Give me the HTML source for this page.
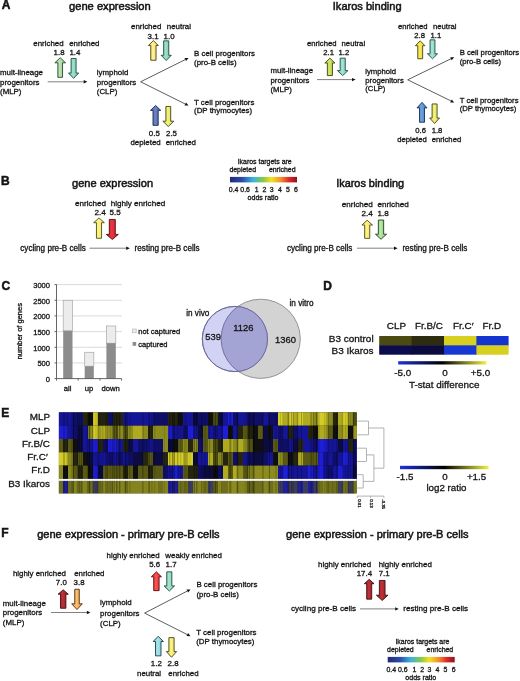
<!DOCTYPE html>
<html><head><meta charset="utf-8"><title>Figure</title>
<style>
html,body{margin:0;padding:0;background:#fff;}
svg{display:block;filter:blur(0.3px);}
text{font-family:"Liberation Sans",sans-serif;fill:#141414;stroke:#141414;stroke-width:0.3px;}
.t{stroke-width:0.5px;}
</style></head><body>
<svg width="520" height="681" viewBox="0 0 520 681">
<defs><linearGradient id="gGreen" x1="0" y1="0" x2="1" y2="0"><stop offset="0" stop-color="#86c084"/><stop offset="0.45" stop-color="#bce4b6"/><stop offset="1" stop-color="#86c084"/></linearGradient><linearGradient id="gTeal" x1="0" y1="0" x2="1" y2="0"><stop offset="0" stop-color="#66bea2"/><stop offset="0.45" stop-color="#a0e0cc"/><stop offset="1" stop-color="#66bea2"/></linearGradient><linearGradient id="gYel" x1="0" y1="0" x2="1" y2="0"><stop offset="0" stop-color="#eed24a"/><stop offset="0.45" stop-color="#fff29a"/><stop offset="1" stop-color="#eed24a"/></linearGradient><linearGradient id="gBlue" x1="0" y1="0" x2="1" y2="0"><stop offset="0" stop-color="#4458a2"/><stop offset="0.45" stop-color="#6c84c8"/><stop offset="1" stop-color="#4458a2"/></linearGradient><linearGradient id="gYel2" x1="0" y1="0" x2="1" y2="0"><stop offset="0" stop-color="#d8d846"/><stop offset="0.45" stop-color="#f2f27e"/><stop offset="1" stop-color="#d8d846"/></linearGradient><linearGradient id="gYG" x1="0" y1="0" x2="1" y2="0"><stop offset="0" stop-color="#a8c232"/><stop offset="0.45" stop-color="#d6e66c"/><stop offset="1" stop-color="#a8c232"/></linearGradient><linearGradient id="gTeal2" x1="0" y1="0" x2="1" y2="0"><stop offset="0" stop-color="#70c8b8"/><stop offset="0.45" stop-color="#a8e4d6"/><stop offset="1" stop-color="#70c8b8"/></linearGradient><linearGradient id="gYel3" x1="0" y1="0" x2="1" y2="0"><stop offset="0" stop-color="#e8d230"/><stop offset="0.45" stop-color="#f8ec58"/><stop offset="1" stop-color="#e8d230"/></linearGradient><linearGradient id="gBlue2" x1="0" y1="0" x2="1" y2="0"><stop offset="0" stop-color="#3e72bc"/><stop offset="0.45" stop-color="#6ea2de"/><stop offset="1" stop-color="#3e72bc"/></linearGradient><linearGradient id="gLY" x1="0" y1="0" x2="1" y2="0"><stop offset="0" stop-color="#eede50"/><stop offset="0.45" stop-color="#fcf484"/><stop offset="1" stop-color="#eede50"/></linearGradient><linearGradient id="gRed" x1="0" y1="0" x2="1" y2="0"><stop offset="0" stop-color="#c01828"/><stop offset="0.45" stop-color="#ee3444"/><stop offset="1" stop-color="#c01828"/></linearGradient><linearGradient id="gGreen2" x1="0" y1="0" x2="1" y2="0"><stop offset="0" stop-color="#80c470"/><stop offset="0.45" stop-color="#b8e8a8"/><stop offset="1" stop-color="#80c470"/></linearGradient><linearGradient id="gDRed" x1="0" y1="0" x2="1" y2="0"><stop offset="0" stop-color="#901820"/><stop offset="0.45" stop-color="#c03038"/><stop offset="1" stop-color="#901820"/></linearGradient><linearGradient id="gOr" x1="0" y1="0" x2="1" y2="0"><stop offset="0" stop-color="#eb9630"/><stop offset="0.45" stop-color="#fcc070"/><stop offset="1" stop-color="#eb9630"/></linearGradient><linearGradient id="gRed2" x1="0" y1="0" x2="1" y2="0"><stop offset="0" stop-color="#e02828"/><stop offset="0.45" stop-color="#ff5050"/><stop offset="1" stop-color="#e02828"/></linearGradient><linearGradient id="gTeal3" x1="0" y1="0" x2="1" y2="0"><stop offset="0" stop-color="#70c8b0"/><stop offset="0.45" stop-color="#a8e4d0"/><stop offset="1" stop-color="#70c8b0"/></linearGradient><linearGradient id="gCyan" x1="0" y1="0" x2="1" y2="0"><stop offset="0" stop-color="#70c8d4"/><stop offset="0.45" stop-color="#a8e4ea"/><stop offset="1" stop-color="#70c8d4"/></linearGradient><linearGradient id="gYel4" x1="0" y1="0" x2="1" y2="0"><stop offset="0" stop-color="#ecdc4a"/><stop offset="0.45" stop-color="#fcf38a"/><stop offset="1" stop-color="#ecdc4a"/></linearGradient><linearGradient id="gOdds" x1="0" y1="0" x2="1" y2="0"><stop offset="0" stop-color="#232a78"/><stop offset="0.18" stop-color="#2c4aa8"/><stop offset="0.34" stop-color="#3cb0e0"/><stop offset="0.5" stop-color="#8cc84a"/><stop offset="0.62" stop-color="#f2e224"/><stop offset="0.76" stop-color="#f09030"/><stop offset="0.88" stop-color="#e02828"/><stop offset="1" stop-color="#8a1420"/></linearGradient><linearGradient id="gBYk" x1="0" y1="0" x2="1" y2="0"><stop offset="0" stop-color="#2030e0"/><stop offset="0.5" stop-color="#000000"/><stop offset="1" stop-color="#f0f040"/></linearGradient><filter id="soft" x="-1%" y="-5%" width="102%" height="110%"><feGaussianBlur stdDeviation="0.45"/></filter></defs>
<rect width="520" height="681" fill="#ffffff"/>
<text x="1.8" y="8.8" font-size="12" font-weight="bold" class="t">A</text>
<text x="69" y="10.1" font-size="11.15" class="t">gene expression</text>
<text x="33.3" y="46.2" font-size="7.9">enriched</text>
<text x="69.2" y="46.2" font-size="7.9">enriched</text>
<text x="53.6" y="55.4" font-size="7.9">1.8</text>
<text x="69.4" y="55.4" font-size="7.9">1.4</text>
<polygon points="60.20,57.75 65.55,62.80 62.55,62.80 62.55,77.35 57.85,77.35 57.85,62.80 54.85,62.80" fill="url(#gGreen)" stroke="#2a4a2a" stroke-width="0.9" stroke-linejoin="miter"/>
<polygon points="73.60,78.35 78.70,73.00 76.10,73.00 76.10,58.45 71.10,58.45 71.10,73.00 68.50,73.00" fill="url(#gTeal)" stroke="#1e4a40" stroke-width="0.9" stroke-linejoin="miter"/>
<text x="0" y="75" font-size="7.9">mult-lineage</text>
<text x="0" y="84.6" font-size="7.9">progenitors</text>
<text x="0" y="93.8" font-size="7.9">(MLP)</text>
<line x1="47.7" y1="81.8" x2="83.70" y2="81.80" stroke="#808080" stroke-width="1.0"/>
<polygon points="87.30,81.80 83.70,83.50 83.70,80.10" fill="#111"/>
<text x="96.8" y="74.9" font-size="7.9">lymphoid</text>
<text x="96.8" y="84.5" font-size="7.9">progenitors</text>
<text x="96.8" y="93.8" font-size="7.9">(CLP)</text>
<text x="131" y="29" font-size="7.9">enriched</text>
<text x="166.8" y="29" font-size="7.9">neutral</text>
<text x="147.6" y="38.5" font-size="7.9">3.1</text>
<text x="163.6" y="38.5" font-size="7.9">1.0</text>
<polygon points="153.40,40.55 158.35,45.50 156.05,45.50 156.05,60.25 150.75,60.25 150.75,45.50 148.45,45.50" fill="url(#gYel)" stroke="#4a4018" stroke-width="0.9" stroke-linejoin="miter"/>
<polygon points="166.20,60.55 171.30,55.30 168.75,55.30 168.75,40.85 163.65,40.85 163.65,55.30 161.10,55.30" fill="url(#gTeal)" stroke="#1e4a40" stroke-width="0.9" stroke-linejoin="miter"/>
<line x1="140.6" y1="81.8" x2="185.28" y2="59.60" stroke="#333" stroke-width="0.8"/>
<polygon points="188.50,58.00 186.03,61.12 184.52,58.08" fill="#111"/>
<line x1="140.6" y1="81.8" x2="185.28" y2="104.00" stroke="#333" stroke-width="0.8"/>
<polygon points="188.50,105.60 184.52,105.52 186.03,102.48" fill="#111"/>
<text x="194" y="56.2" font-size="7.9">B cell progenitors</text>
<text x="194" y="64.6" font-size="7.9">(pro-B cells)</text>
<text x="194" y="104.6" font-size="7.9">T cell progenitors</text>
<text x="194" y="113" font-size="7.9">(DP thymocytes)</text>
<polygon points="155.60,105.45 160.75,110.40 158.20,110.40 158.20,125.35 153.00,125.35 153.00,110.40 150.45,110.40" fill="url(#gBlue)" stroke="#1a2850" stroke-width="0.9" stroke-linejoin="miter"/>
<polygon points="168.30,126.55 173.75,121.20 170.70,121.20 170.70,106.45 165.90,106.45 165.90,121.20 162.85,121.20" fill="url(#gYel2)" stroke="#424218" stroke-width="0.9" stroke-linejoin="miter"/>
<text x="148.8" y="135.8" font-size="7.9">0.5</text>
<text x="166" y="135.8" font-size="7.9">2.5</text>
<text x="130.4" y="144.5" font-size="7.9">depleted</text>
<text x="165.7" y="144.5" font-size="7.9">enriched</text>
<text x="332.8" y="10.4" font-size="11.05" class="t">Ikaros binding</text>
<text x="307" y="45.7" font-size="7.7">enriched</text>
<text x="341.6" y="45.7" font-size="7.7">neutral</text>
<text x="323.3" y="54.9" font-size="7.7">2.1</text>
<text x="338.6" y="54.9" font-size="7.7">1.2</text>
<polygon points="329.90,58.15 334.95,63.00 332.45,63.00 332.45,75.55 327.35,75.55 327.35,63.00 324.85,63.00" fill="url(#gYG)" stroke="#3c4418" stroke-width="0.9" stroke-linejoin="miter"/>
<polygon points="342.70,75.55 347.95,70.60 345.25,70.60 345.25,58.15 340.15,58.15 340.15,70.60 337.45,70.60" fill="url(#gTeal2)" stroke="#1e4a44" stroke-width="0.9" stroke-linejoin="miter"/>
<text x="270.5" y="73.1" font-size="7.8">mult-lineage</text>
<text x="270.5" y="82.6" font-size="7.8">progenitors</text>
<text x="270.5" y="91.7" font-size="7.8">(MLP)</text>
<line x1="317" y1="79.6" x2="352.00" y2="79.60" stroke="#808080" stroke-width="1.0"/>
<polygon points="355.60,79.60 352.00,81.30 352.00,77.90" fill="#111"/>
<text x="365.3" y="74" font-size="7.7">lymphoid</text>
<text x="365.3" y="82.7" font-size="7.7">progenitors</text>
<text x="365.3" y="91.3" font-size="7.7">(CLP)</text>
<text x="398" y="28.5" font-size="7.7">enriched</text>
<text x="433" y="28.5" font-size="7.7">neutral</text>
<text x="414.3" y="37.5" font-size="7.7">2.8</text>
<text x="430.6" y="37.5" font-size="7.7">1.1</text>
<polygon points="420.20,40.85 424.95,45.70 422.65,45.70 422.65,58.75 417.75,58.75 417.75,45.70 415.45,45.70" fill="url(#gYel3)" stroke="#4a4418" stroke-width="0.9" stroke-linejoin="miter"/>
<polygon points="432.50,58.75 437.55,53.80 434.95,53.80 434.95,39.85 430.05,39.85 430.05,53.80 427.45,53.80" fill="url(#gTeal2)" stroke="#1e4a44" stroke-width="0.9" stroke-linejoin="miter"/>
<line x1="407.7" y1="79.8" x2="450.96" y2="58.77" stroke="#333" stroke-width="0.8"/>
<polygon points="454.20,57.20 451.71,60.30 450.22,57.24" fill="#111"/>
<line x1="407.7" y1="79.8" x2="450.96" y2="100.92" stroke="#333" stroke-width="0.8"/>
<polygon points="454.20,102.50 450.22,102.45 451.71,99.39" fill="#111"/>
<text x="459.7" y="55.4" font-size="7.7">B cell progenitors</text>
<text x="459.7" y="64" font-size="7.7">(pro-B cells)</text>
<text x="459.7" y="102.5" font-size="7.7">T cell progenitors</text>
<text x="459.7" y="110.8" font-size="7.7">(DP thymocytes)</text>
<polygon points="422.00,102.35 427.00,107.90 424.50,107.90 424.50,122.25 419.50,122.25 419.50,107.90 417.00,107.90" fill="url(#gBlue2)" stroke="#1a3058" stroke-width="0.9" stroke-linejoin="miter"/>
<polygon points="434.60,123.45 439.55,118.00 437.10,118.00 437.10,103.95 432.10,103.95 432.10,118.00 429.65,118.00" fill="url(#gYel2)" stroke="#424218" stroke-width="0.9" stroke-linejoin="miter"/>
<text x="415.3" y="132.7" font-size="7.7">0.6</text>
<text x="431.7" y="132.7" font-size="7.7">1.8</text>
<text x="397.3" y="141.5" font-size="7.7">depleted</text>
<text x="431.7" y="141.5" font-size="7.7">enriched</text>
<text x="1.0" y="185.0" font-size="12" font-weight="bold" class="t">B</text>
<text x="72" y="187.4" font-size="11.05" class="t">gene expression</text>
<text x="75" y="205.8" font-size="8.1">enriched</text>
<text x="110.7" y="205.8" font-size="8.1">highly enriched</text>
<text x="94.5" y="215" font-size="8.1">2.4</text>
<text x="109.5" y="215" font-size="8.1">5.5</text>
<polygon points="99.00,217.95 104.35,222.70 101.55,222.70 101.55,238.25 96.45,238.25 96.45,222.70 93.65,222.70" fill="url(#gLY)" stroke="#4a4a20" stroke-width="0.9" stroke-linejoin="miter"/>
<polygon points="112.30,239.45 118.30,234.40 115.30,234.40 115.30,219.45 109.30,219.45 109.30,234.40 106.30,234.40" fill="url(#gRed)" stroke="#4a1010" stroke-width="0.9" stroke-linejoin="miter"/>
<text x="20.3" y="250.6" font-size="8.15">cycling pre-B cells</text>
<line x1="89.5" y1="248.2" x2="126.20" y2="248.20" stroke="#808080" stroke-width="1.0"/>
<polygon points="129.80,248.20 126.20,249.90 126.20,246.50" fill="#111"/>
<text x="134.6" y="250.6" font-size="8.15">resting pre-B cells</text>
<text x="336.2" y="187.4" font-size="10.9" class="t">Ikaros binding</text>
<text x="341.8" y="207" font-size="8.1">enriched</text>
<text x="377.6" y="207" font-size="8.1">enriched</text>
<text x="361.4" y="215.7" font-size="8.1">2.4</text>
<text x="377.6" y="215.7" font-size="8.1">1.8</text>
<polygon points="367.20,220.25 372.50,225.00 369.75,225.00 369.75,238.35 364.65,238.35 364.65,225.00 361.90,225.00" fill="url(#gLY)" stroke="#4a4a20" stroke-width="0.9" stroke-linejoin="miter"/>
<polygon points="381.00,239.25 386.55,234.20 383.65,234.20 383.65,220.05 378.35,220.05 378.35,234.20 375.45,234.20" fill="url(#gGreen2)" stroke="#204020" stroke-width="0.9" stroke-linejoin="miter"/>
<text x="286.9" y="250.6" font-size="8.15">cycling pre-B cells</text>
<line x1="357" y1="248.2" x2="394.00" y2="248.20" stroke="#808080" stroke-width="1.0"/>
<polygon points="397.60,248.20 394.00,249.90 394.00,246.50" fill="#111"/>
<text x="402.4" y="250.6" font-size="8.15">resting pre-B cells</text>
<text x="237.7" y="163.7" font-size="6.95">Ikaros targets are</text>
<text x="229.4" y="172" font-size="6.95">depleted</text>
<text x="268.9" y="172" font-size="6.95">enriched</text>
<rect x="230" y="176.9" width="67" height="5.5" fill="url(#gOdds)"/>
<text x="228.8" y="192.2" font-size="6.95">0.4</text>
<text x="240.3" y="192.2" font-size="6.95">0.6</text>
<text x="254.8" y="192.2" font-size="6.95">1</text>
<text x="262.5" y="192.2" font-size="6.95">2</text>
<text x="269.8" y="192.2" font-size="6.95">3</text>
<text x="277.9" y="192.2" font-size="6.95">4</text>
<text x="285.9" y="192.2" font-size="6.95">5</text>
<text x="294" y="192.2" font-size="6.95">6</text>
<text x="247.6" y="200.3" font-size="7.05">odds ratio</text>
<text x="1.5" y="289.6" font-size="12" font-weight="bold" class="t">C</text>
<line x1="56.5" y1="362.93" x2="122" y2="362.93" stroke="#d6d6d6" stroke-width="0.9"/>
<line x1="56.5" y1="347.27" x2="122" y2="347.27" stroke="#d6d6d6" stroke-width="0.9"/>
<line x1="56.5" y1="331.60" x2="122" y2="331.60" stroke="#d6d6d6" stroke-width="0.9"/>
<line x1="56.5" y1="315.93" x2="122" y2="315.93" stroke="#d6d6d6" stroke-width="0.9"/>
<line x1="56.5" y1="300.27" x2="122" y2="300.27" stroke="#d6d6d6" stroke-width="0.9"/>
<line x1="56.5" y1="284.60" x2="122" y2="284.60" stroke="#d6d6d6" stroke-width="0.9"/>
<rect x="63.2" y="300.27" width="9.299999999999997" height="30.55" fill="#ececec" stroke="#a8a8a8" stroke-width="0.7"/>
<rect x="63.2" y="330.82" width="9.299999999999997" height="47.78" fill="#8c8c8c"/>
<rect x="84.7" y="352.28" width="9.099999999999994" height="13.94" fill="#ececec" stroke="#a8a8a8" stroke-width="0.7"/>
<rect x="84.7" y="366.22" width="9.099999999999994" height="12.38" fill="#8c8c8c"/>
<rect x="106.4" y="325.96" width="9.399999999999991" height="17.23" fill="#ececec" stroke="#a8a8a8" stroke-width="0.7"/>
<rect x="106.4" y="343.19" width="9.399999999999991" height="35.41" fill="#8c8c8c"/>
<line x1="56.5" y1="284.4" x2="56.5" y2="378.6" stroke="#555" stroke-width="0.9"/>
<line x1="56.5" y1="378.6" x2="121.6" y2="378.6" stroke="#555" stroke-width="0.9"/>
<line x1="54.5" y1="378.60" x2="56.5" y2="378.60" stroke="#555" stroke-width="0.9"/>
<line x1="54.5" y1="362.93" x2="56.5" y2="362.93" stroke="#555" stroke-width="0.9"/>
<line x1="54.5" y1="347.27" x2="56.5" y2="347.27" stroke="#555" stroke-width="0.9"/>
<line x1="54.5" y1="331.60" x2="56.5" y2="331.60" stroke="#555" stroke-width="0.9"/>
<line x1="54.5" y1="315.93" x2="56.5" y2="315.93" stroke="#555" stroke-width="0.9"/>
<line x1="54.5" y1="300.27" x2="56.5" y2="300.27" stroke="#555" stroke-width="0.9"/>
<line x1="54.5" y1="284.60" x2="56.5" y2="284.60" stroke="#555" stroke-width="0.9"/>
<line x1="56.5" y1="378.6" x2="56.5" y2="380.6" stroke="#555" stroke-width="0.9"/>
<line x1="78.2" y1="378.6" x2="78.2" y2="380.6" stroke="#555" stroke-width="0.9"/>
<line x1="100" y1="378.6" x2="100" y2="380.6" stroke="#555" stroke-width="0.9"/>
<line x1="121.6" y1="378.6" x2="121.6" y2="380.6" stroke="#555" stroke-width="0.9"/>
<text x="50" y="381.90000000000003" font-size="7.55" text-anchor="end">0</text>
<text x="50" y="366.23333333333335" font-size="7.55" text-anchor="end">500</text>
<text x="50" y="350.5666666666667" font-size="7.55" text-anchor="end">1000</text>
<text x="50" y="334.90000000000003" font-size="7.55" text-anchor="end">1500</text>
<text x="50" y="319.23333333333335" font-size="7.55" text-anchor="end">2000</text>
<text x="50" y="303.5666666666667" font-size="7.55" text-anchor="end">2500</text>
<text x="50" y="287.90000000000003" font-size="7.55" text-anchor="end">3000</text>
<text x="0" y="0" font-size="7.5" text-anchor="middle" transform="translate(22.4,331.2) rotate(-90)">number of genes</text>
<text x="63.7" y="391" font-size="7.7">all</text>
<text x="84.8" y="391" font-size="7.7">up</text>
<text x="101.5" y="391" font-size="7.7">down</text>
<rect x="132.6" y="329" width="3.6" height="3.8" fill="#ececec" stroke="#b0b0b0" stroke-width="0.6"/>
<rect x="132.6" y="342" width="3.6" height="3.8" fill="#8c8c8c"/>
<text x="138.2" y="334.3" font-size="7.55">not captured</text>
<text x="138.2" y="347" font-size="7.55">captured</text>
<circle cx="260.7" cy="338.8" r="39.6" fill="#d3d3d3" stroke="#8a8a8a" stroke-width="0.9"/>
<circle cx="234.9" cy="339" r="32.6" fill="#d2d2f4" stroke="#6a6a9a" stroke-width="0.9"/>
<clipPath id="cpBig"><circle cx="260.7" cy="338.8" r="39.6"/></clipPath>
<circle cx="234.9" cy="339" r="32.6" fill="#a4a4d4" clip-path="url(#cpBig)"/>
<circle cx="260.7" cy="338.8" r="39.6" fill="none" stroke="#6a6a9a" stroke-width="0.9" clip-path="url(#cpSmall)"/>
<clipPath id="cpSmall"><circle cx="234.9" cy="339" r="32.6"/></clipPath>
<circle cx="234.9" cy="339" r="32.6" fill="none" stroke="#6a6a9a" stroke-width="0.9"/>
<text x="186.2" y="315.6" font-size="8.2">in vivo</text>
<text x="289.5" y="306.3" font-size="8.2">in vitro</text>
<text x="205.3" y="340.1" font-size="9.4" fill="#262640">539</text>
<text x="233.3" y="331.1" font-size="9.4" fill="#262640">1126</text>
<text x="275" y="342.6" font-size="9.4" fill="#262626">1360</text>
<text x="323.2" y="289.5" font-size="12" font-weight="bold" class="t">D</text>
<text x="386.8" y="329.4" font-size="9.9">CLP</text>
<text x="415" y="329.4" font-size="9.9">Fr.B/C</text>
<text x="453" y="329.4" font-size="9.9">Fr.C′</text>
<text x="482.5" y="329.4" font-size="9.9">Fr.D</text>
<text x="373.6" y="341.9" font-size="9.95" text-anchor="end">B3 control</text>
<text x="373.6" y="354.2" font-size="9.95" text-anchor="end">B3 Ikaros</text>
<rect x="379.2" y="336" width="33.00" height="9.8" fill="#4a4a12"/>
<rect x="379.2" y="345.3" width="33.00" height="9.4" fill="#0c0c4c"/>
<rect x="411.6" y="336" width="33.00" height="9.8" fill="#2e2c10"/>
<rect x="411.6" y="345.3" width="33.00" height="9.4" fill="#0a0a3c"/>
<rect x="444.0" y="336" width="33.00" height="9.8" fill="#d8d020"/>
<rect x="444.0" y="345.3" width="33.00" height="9.4" fill="#1838d4"/>
<rect x="476.4" y="336" width="32.20" height="9.8" fill="#1434d0"/>
<rect x="476.4" y="345.3" width="32.20" height="9.4" fill="#d8d020"/>
<rect x="398.2" y="361.2" width="88.2" height="3.3" fill="url(#gBYk)"/>
<text x="394.2" y="375.8" font-size="9.85">-5.0</text>
<text x="442.3" y="375.8" font-size="9.85">0</text>
<text x="470.8" y="375.8" font-size="9.85">+5.0</text>
<text x="408.9" y="388" font-size="9.9">T-stat difference</text>
<text x="1.3" y="416.5" font-size="12" font-weight="bold" class="t">E</text>
<text x="50" y="420" font-size="9.9" text-anchor="end">MLP</text>
<text x="50" y="433.5" font-size="9.9" text-anchor="end">CLP</text>
<text x="50" y="446.6" font-size="9.9" text-anchor="end">Fr.B/C</text>
<text x="47.8" y="460" font-size="9.9" text-anchor="end">Fr.C′</text>
<text x="50" y="473.1" font-size="9.9" text-anchor="end">Fr.D</text>
<text x="50" y="486.5" font-size="9.9" text-anchor="end">B3 Ikaros</text>
<rect x="58.9" y="412.4" width="297.80" height="80.90" fill="#121212"/>
<g><rect x="58.9" y="412.4" width="14.15" height="13.35" fill="#151598"/><rect x="73" y="412.4" width="10.05" height="13.35" fill="#0f0f68"/><rect x="83" y="412.4" width="5.05" height="13.35" fill="#262610"/><rect x="88" y="412.4" width="5.05" height="13.35" fill="#101010"/><rect x="93" y="412.4" width="5.05" height="13.35" fill="#d4cc28"/><rect x="98" y="412.4" width="10.05" height="13.35" fill="#262610"/><rect x="108" y="412.4" width="5.05" height="13.35" fill="#0f0f68"/><rect x="113" y="412.4" width="10.05" height="13.35" fill="#262610"/><rect x="123" y="412.4" width="30.05" height="13.35" fill="#151598"/><rect x="153" y="412.4" width="15.05" height="13.35" fill="#0f0f68"/><rect x="168" y="412.4" width="10.05" height="13.35" fill="#262610"/><rect x="178" y="412.4" width="5.05" height="13.35" fill="#101010"/><rect x="183" y="412.4" width="10.05" height="13.35" fill="#151598"/><rect x="193" y="412.4" width="5.05" height="13.35" fill="#0c0c40"/><rect x="198" y="412.4" width="10.05" height="13.35" fill="#0f0f68"/><rect x="208" y="412.4" width="5.05" height="13.35" fill="#101010"/><rect x="213" y="412.4" width="5.05" height="13.35" fill="#5a5a14"/><rect x="218" y="412.4" width="5.05" height="13.35" fill="#0c0c40"/><rect x="223" y="412.4" width="5.05" height="13.35" fill="#151598"/><rect x="228" y="412.4" width="5.05" height="13.35" fill="#1e1ed6"/><rect x="233" y="412.4" width="5.05" height="13.35" fill="#0f0f68"/><rect x="238" y="412.4" width="10.05" height="13.35" fill="#151598"/><rect x="248" y="412.4" width="15.05" height="13.35" fill="#0f0f68"/><rect x="263" y="412.4" width="5.05" height="13.35" fill="#151598"/><rect x="268" y="412.4" width="10.05" height="13.35" fill="#0f0f68"/><rect x="278" y="412.4" width="5.05" height="13.35" fill="#d4cc28"/><rect x="283" y="412.4" width="5.05" height="13.35" fill="#b0aa20"/><rect x="288" y="412.4" width="5.05" height="13.35" fill="#d4cc28"/><rect x="293" y="412.4" width="5.05" height="13.35" fill="#b0aa20"/><rect x="298" y="412.4" width="5.05" height="13.35" fill="#d4cc28"/><rect x="303" y="412.4" width="10.05" height="13.35" fill="#b0aa20"/><rect x="313" y="412.4" width="5.05" height="13.35" fill="#8c8c1e"/><rect x="318" y="412.4" width="10.05" height="13.35" fill="#d4cc28"/><rect x="328" y="412.4" width="5.05" height="13.35" fill="#8c8c1e"/><rect x="333" y="412.4" width="5.05" height="13.35" fill="#262610"/><rect x="338" y="412.4" width="5.05" height="13.35" fill="#b0aa20"/><rect x="343" y="412.4" width="5.05" height="13.35" fill="#d4cc28"/><rect x="348" y="412.4" width="5.05" height="13.35" fill="#8c8c1e"/><rect x="353" y="412.4" width="3.75" height="13.35" fill="#5a5a14"/><rect x="58.9" y="425.7" width="9.15" height="13.35" fill="#1e1ed6"/><rect x="68" y="425.7" width="5.05" height="13.35" fill="#151598"/><rect x="73" y="425.7" width="5.05" height="13.35" fill="#0f0f68"/><rect x="78" y="425.7" width="5.05" height="13.35" fill="#0c0c40"/><rect x="83" y="425.7" width="5.05" height="13.35" fill="#151598"/><rect x="88" y="425.7" width="5.05" height="13.35" fill="#8c8c1e"/><rect x="93" y="425.7" width="5.05" height="13.35" fill="#d4cc28"/><rect x="98" y="425.7" width="10.05" height="13.35" fill="#b0aa20"/><rect x="108" y="425.7" width="5.05" height="13.35" fill="#8c8c1e"/><rect x="113" y="425.7" width="5.05" height="13.35" fill="#5a5a14"/><rect x="118" y="425.7" width="5.05" height="13.35" fill="#8c8c1e"/><rect x="123" y="425.7" width="5.05" height="13.35" fill="#5a5a14"/><rect x="128" y="425.7" width="5.05" height="13.35" fill="#8c8c1e"/><rect x="133" y="425.7" width="10.05" height="13.35" fill="#b0aa20"/><rect x="143" y="425.7" width="5.05" height="13.35" fill="#8c8c1e"/><rect x="148" y="425.7" width="5.05" height="13.35" fill="#262610"/><rect x="153" y="425.7" width="15.05" height="13.35" fill="#8c8c1e"/><rect x="168" y="425.7" width="5.05" height="13.35" fill="#1e1ed6"/><rect x="173" y="425.7" width="10.05" height="13.35" fill="#151598"/><rect x="183" y="425.7" width="5.05" height="13.35" fill="#0f0f68"/><rect x="188" y="425.7" width="5.05" height="13.35" fill="#1e1ed6"/><rect x="193" y="425.7" width="5.05" height="13.35" fill="#151598"/><rect x="198" y="425.7" width="5.05" height="13.35" fill="#0c0c40"/><rect x="203" y="425.7" width="5.05" height="13.35" fill="#5a5a14"/><rect x="208" y="425.7" width="15.05" height="13.35" fill="#151598"/><rect x="223" y="425.7" width="5.05" height="13.35" fill="#1e1ed6"/><rect x="228" y="425.7" width="5.05" height="13.35" fill="#101010"/><rect x="233" y="425.7" width="5.05" height="13.35" fill="#151598"/><rect x="238" y="425.7" width="5.05" height="13.35" fill="#262610"/><rect x="243" y="425.7" width="5.05" height="13.35" fill="#5a5a14"/><rect x="248" y="425.7" width="5.05" height="13.35" fill="#262610"/><rect x="253" y="425.7" width="5.05" height="13.35" fill="#101010"/><rect x="258" y="425.7" width="5.05" height="13.35" fill="#5a5a14"/><rect x="263" y="425.7" width="5.05" height="13.35" fill="#0c0c40"/><rect x="268" y="425.7" width="5.05" height="13.35" fill="#101010"/><rect x="273" y="425.7" width="5.05" height="13.35" fill="#151598"/><rect x="278" y="425.7" width="5.05" height="13.35" fill="#0f0f68"/><rect x="283" y="425.7" width="5.05" height="13.35" fill="#151598"/><rect x="288" y="425.7" width="5.05" height="13.35" fill="#262610"/><rect x="293" y="425.7" width="5.05" height="13.35" fill="#0f0f68"/><rect x="298" y="425.7" width="10.05" height="13.35" fill="#151598"/><rect x="308" y="425.7" width="5.05" height="13.35" fill="#262610"/><rect x="313" y="425.7" width="5.05" height="13.35" fill="#101010"/><rect x="318" y="425.7" width="10.05" height="13.35" fill="#b0aa20"/><rect x="328" y="425.7" width="5.05" height="13.35" fill="#5a5a14"/><rect x="333" y="425.7" width="5.05" height="13.35" fill="#101010"/><rect x="338" y="425.7" width="5.05" height="13.35" fill="#8c8c1e"/><rect x="343" y="425.7" width="5.05" height="13.35" fill="#b0aa20"/><rect x="348" y="425.7" width="5.05" height="13.35" fill="#101010"/><rect x="353" y="425.7" width="3.75" height="13.35" fill="#b0aa20"/><rect x="58.9" y="439.0" width="4.15" height="13.35" fill="#5a5a14"/><rect x="63" y="439.0" width="5.05" height="13.35" fill="#262610"/><rect x="68" y="439.0" width="5.05" height="13.35" fill="#5a5a14"/><rect x="73" y="439.0" width="5.05" height="13.35" fill="#101010"/><rect x="78" y="439.0" width="5.05" height="13.35" fill="#0c0c40"/><rect x="83" y="439.0" width="10.05" height="13.35" fill="#151598"/><rect x="93" y="439.0" width="5.05" height="13.35" fill="#1e1ed6"/><rect x="98" y="439.0" width="5.05" height="13.35" fill="#262610"/><rect x="103" y="439.0" width="5.05" height="13.35" fill="#0f0f68"/><rect x="108" y="439.0" width="10.05" height="13.35" fill="#1e1ed6"/><rect x="118" y="439.0" width="5.05" height="13.35" fill="#151598"/><rect x="123" y="439.0" width="5.05" height="13.35" fill="#262610"/><rect x="128" y="439.0" width="5.05" height="13.35" fill="#0c0c40"/><rect x="133" y="439.0" width="5.05" height="13.35" fill="#151598"/><rect x="138" y="439.0" width="10.05" height="13.35" fill="#0f0f68"/><rect x="148" y="439.0" width="5.05" height="13.35" fill="#151598"/><rect x="153" y="439.0" width="10.05" height="13.35" fill="#0f0f68"/><rect x="163" y="439.0" width="5.05" height="13.35" fill="#8c8c1e"/><rect x="168" y="439.0" width="5.05" height="13.35" fill="#0c0c40"/><rect x="173" y="439.0" width="5.05" height="13.35" fill="#101010"/><rect x="178" y="439.0" width="5.05" height="13.35" fill="#5a5a14"/><rect x="183" y="439.0" width="5.05" height="13.35" fill="#8c8c1e"/><rect x="188" y="439.0" width="5.05" height="13.35" fill="#262610"/><rect x="193" y="439.0" width="5.05" height="13.35" fill="#8c8c1e"/><rect x="198" y="439.0" width="5.05" height="13.35" fill="#0f0f68"/><rect x="203" y="439.0" width="5.05" height="13.35" fill="#5a5a14"/><rect x="208" y="439.0" width="5.05" height="13.35" fill="#8c8c1e"/><rect x="213" y="439.0" width="5.05" height="13.35" fill="#5a5a14"/><rect x="218" y="439.0" width="5.05" height="13.35" fill="#262610"/><rect x="223" y="439.0" width="10.05" height="13.35" fill="#b0aa20"/><rect x="233" y="439.0" width="5.05" height="13.35" fill="#8c8c1e"/><rect x="238" y="439.0" width="5.05" height="13.35" fill="#b0aa20"/><rect x="243" y="439.0" width="5.05" height="13.35" fill="#8c8c1e"/><rect x="248" y="439.0" width="5.05" height="13.35" fill="#5a5a14"/><rect x="253" y="439.0" width="10.05" height="13.35" fill="#101010"/><rect x="263" y="439.0" width="10.05" height="13.35" fill="#0c0c40"/><rect x="273" y="439.0" width="5.05" height="13.35" fill="#5a5a14"/><rect x="278" y="439.0" width="10.05" height="13.35" fill="#0f0f68"/><rect x="288" y="439.0" width="5.05" height="13.35" fill="#151598"/><rect x="293" y="439.0" width="5.05" height="13.35" fill="#0c0c40"/><rect x="298" y="439.0" width="5.05" height="13.35" fill="#262610"/><rect x="303" y="439.0" width="10.05" height="13.35" fill="#151598"/><rect x="313" y="439.0" width="5.05" height="13.35" fill="#0f0f68"/><rect x="318" y="439.0" width="10.05" height="13.35" fill="#1e1ed6"/><rect x="328" y="439.0" width="10.05" height="13.35" fill="#151598"/><rect x="338" y="439.0" width="5.05" height="13.35" fill="#0c0c40"/><rect x="343" y="439.0" width="5.05" height="13.35" fill="#151598"/><rect x="348" y="439.0" width="5.05" height="13.35" fill="#262610"/><rect x="353" y="439.0" width="3.75" height="13.35" fill="#0f0f68"/><rect x="58.9" y="452.3" width="9.15" height="13.35" fill="#d4cc28"/><rect x="68" y="452.3" width="5.05" height="13.35" fill="#8c8c1e"/><rect x="73" y="452.3" width="5.05" height="13.35" fill="#262610"/><rect x="78" y="452.3" width="5.05" height="13.35" fill="#5a5a14"/><rect x="83" y="452.3" width="5.05" height="13.35" fill="#101010"/><rect x="88" y="452.3" width="5.05" height="13.35" fill="#0c0c40"/><rect x="93" y="452.3" width="15.05" height="13.35" fill="#151598"/><rect x="108" y="452.3" width="5.05" height="13.35" fill="#0f0f68"/><rect x="113" y="452.3" width="5.05" height="13.35" fill="#151598"/><rect x="118" y="452.3" width="5.05" height="13.35" fill="#0f0f68"/><rect x="123" y="452.3" width="5.05" height="13.35" fill="#151598"/><rect x="128" y="452.3" width="5.05" height="13.35" fill="#0f0f68"/><rect x="133" y="452.3" width="10.05" height="13.35" fill="#0c0c40"/><rect x="143" y="452.3" width="5.05" height="13.35" fill="#262610"/><rect x="148" y="452.3" width="5.05" height="13.35" fill="#5a5a14"/><rect x="153" y="452.3" width="10.05" height="13.35" fill="#0c0c40"/><rect x="163" y="452.3" width="5.05" height="13.35" fill="#262610"/><rect x="168" y="452.3" width="15.05" height="13.35" fill="#d4cc28"/><rect x="183" y="452.3" width="5.05" height="13.35" fill="#b0aa20"/><rect x="188" y="452.3" width="5.05" height="13.35" fill="#d4cc28"/><rect x="193" y="452.3" width="5.05" height="13.35" fill="#0c0c40"/><rect x="198" y="452.3" width="10.05" height="13.35" fill="#151598"/><rect x="208" y="452.3" width="5.05" height="13.35" fill="#b0aa20"/><rect x="213" y="452.3" width="5.05" height="13.35" fill="#5a5a14"/><rect x="218" y="452.3" width="5.05" height="13.35" fill="#8c8c1e"/><rect x="223" y="452.3" width="5.05" height="13.35" fill="#262610"/><rect x="228" y="452.3" width="5.05" height="13.35" fill="#5a5a14"/><rect x="233" y="452.3" width="5.05" height="13.35" fill="#0f0f68"/><rect x="238" y="452.3" width="5.05" height="13.35" fill="#262610"/><rect x="243" y="452.3" width="5.05" height="13.35" fill="#151598"/><rect x="248" y="452.3" width="5.05" height="13.35" fill="#0f0f68"/><rect x="253" y="452.3" width="10.05" height="13.35" fill="#0c0c40"/><rect x="263" y="452.3" width="5.05" height="13.35" fill="#0f0f68"/><rect x="268" y="452.3" width="5.05" height="13.35" fill="#151598"/><rect x="273" y="452.3" width="5.05" height="13.35" fill="#101010"/><rect x="278" y="452.3" width="5.05" height="13.35" fill="#8c8c1e"/><rect x="283" y="452.3" width="5.05" height="13.35" fill="#5a5a14"/><rect x="288" y="452.3" width="5.05" height="13.35" fill="#101010"/><rect x="293" y="452.3" width="5.05" height="13.35" fill="#262610"/><rect x="298" y="452.3" width="5.05" height="13.35" fill="#b0aa20"/><rect x="303" y="452.3" width="15.05" height="13.35" fill="#5a5a14"/><rect x="318" y="452.3" width="5.05" height="13.35" fill="#1e1ed6"/><rect x="323" y="452.3" width="10.05" height="13.35" fill="#151598"/><rect x="333" y="452.3" width="5.05" height="13.35" fill="#0f0f68"/><rect x="338" y="452.3" width="5.05" height="13.35" fill="#151598"/><rect x="343" y="452.3" width="5.05" height="13.35" fill="#1e1ed6"/><rect x="348" y="452.3" width="5.05" height="13.35" fill="#151598"/><rect x="353" y="452.3" width="3.75" height="13.35" fill="#0f0f68"/><rect x="58.9" y="465.6" width="4.15" height="13.35" fill="#8c8c1e"/><rect x="63" y="465.6" width="5.05" height="13.35" fill="#101010"/><rect x="68" y="465.6" width="5.05" height="13.35" fill="#8c8c1e"/><rect x="73" y="465.6" width="5.05" height="13.35" fill="#5a5a14"/><rect x="78" y="465.6" width="5.05" height="13.35" fill="#262610"/><rect x="83" y="465.6" width="5.05" height="13.35" fill="#5a5a14"/><rect x="88" y="465.6" width="5.05" height="13.35" fill="#101010"/><rect x="93" y="465.6" width="5.05" height="13.35" fill="#1e1ed6"/><rect x="98" y="465.6" width="5.05" height="13.35" fill="#0c0c40"/><rect x="103" y="465.6" width="20.05" height="13.35" fill="#5a5a14"/><rect x="123" y="465.6" width="5.05" height="13.35" fill="#262610"/><rect x="128" y="465.6" width="5.05" height="13.35" fill="#5a5a14"/><rect x="133" y="465.6" width="5.05" height="13.35" fill="#101010"/><rect x="138" y="465.6" width="10.05" height="13.35" fill="#5a5a14"/><rect x="148" y="465.6" width="5.05" height="13.35" fill="#262610"/><rect x="153" y="465.6" width="10.05" height="13.35" fill="#5a5a14"/><rect x="163" y="465.6" width="5.05" height="13.35" fill="#0f0f68"/><rect x="168" y="465.6" width="5.05" height="13.35" fill="#151598"/><rect x="173" y="465.6" width="5.05" height="13.35" fill="#1e1ed6"/><rect x="178" y="465.6" width="5.05" height="13.35" fill="#151598"/><rect x="183" y="465.6" width="5.05" height="13.35" fill="#5a5a14"/><rect x="188" y="465.6" width="10.05" height="13.35" fill="#262610"/><rect x="198" y="465.6" width="5.05" height="13.35" fill="#0f0f68"/><rect x="203" y="465.6" width="10.05" height="13.35" fill="#0c0c40"/><rect x="213" y="465.6" width="5.05" height="13.35" fill="#101010"/><rect x="218" y="465.6" width="5.05" height="13.35" fill="#0f0f68"/><rect x="223" y="465.6" width="5.05" height="13.35" fill="#b0aa20"/><rect x="228" y="465.6" width="5.05" height="13.35" fill="#5a5a14"/><rect x="233" y="465.6" width="5.05" height="13.35" fill="#b0aa20"/><rect x="238" y="465.6" width="5.05" height="13.35" fill="#8c8c1e"/><rect x="243" y="465.6" width="5.05" height="13.35" fill="#5a5a14"/><rect x="248" y="465.6" width="30.05" height="13.35" fill="#8c8c1e"/><rect x="278" y="465.6" width="5.05" height="13.35" fill="#151598"/><rect x="283" y="465.6" width="5.05" height="13.35" fill="#1e1ed6"/><rect x="288" y="465.6" width="20.05" height="13.35" fill="#151598"/><rect x="308" y="465.6" width="5.05" height="13.35" fill="#1e1ed6"/><rect x="313" y="465.6" width="5.05" height="13.35" fill="#151598"/><rect x="318" y="465.6" width="5.05" height="13.35" fill="#1e1ed6"/><rect x="323" y="465.6" width="5.05" height="13.35" fill="#151598"/><rect x="328" y="465.6" width="5.05" height="13.35" fill="#0f0f68"/><rect x="333" y="465.6" width="5.05" height="13.35" fill="#151598"/><rect x="338" y="465.6" width="5.05" height="13.35" fill="#1e1ed6"/><rect x="343" y="465.6" width="10.05" height="13.35" fill="#151598"/><rect x="353" y="465.6" width="3.75" height="13.35" fill="#0c0c40"/><rect x="58.9" y="480.9" width="4.15" height="12.45" fill="#6e6e1c"/><rect x="63" y="480.9" width="5.05" height="12.45" fill="#20209a"/><rect x="68" y="480.9" width="5.05" height="12.45" fill="#6e6e1c"/><rect x="73" y="480.9" width="5.05" height="12.45" fill="#84841e"/><rect x="78" y="480.9" width="5.05" height="12.45" fill="#6e6e1c"/><rect x="83" y="480.9" width="5.05" height="12.45" fill="#84841e"/><rect x="88" y="480.9" width="5.05" height="12.45" fill="#6e6e1c"/><rect x="93" y="480.9" width="5.05" height="12.45" fill="#3c3c5c"/><rect x="98" y="480.9" width="5.05" height="12.45" fill="#6e6e1c"/><rect x="103" y="480.9" width="5.05" height="12.45" fill="#84841e"/><rect x="108" y="480.9" width="5.05" height="12.45" fill="#6e6e1c"/><rect x="113" y="480.9" width="45.05" height="12.45" fill="#84841e"/><rect x="158" y="480.9" width="5.05" height="12.45" fill="#6e6e1c"/><rect x="163" y="480.9" width="5.05" height="12.45" fill="#84841e"/><rect x="168" y="480.9" width="10.05" height="12.45" fill="#20209a"/><rect x="178" y="480.9" width="10.05" height="12.45" fill="#6e6e1c"/><rect x="188" y="480.9" width="5.05" height="12.45" fill="#3c3c5c"/><rect x="193" y="480.9" width="10.05" height="12.45" fill="#84841e"/><rect x="203" y="480.9" width="5.05" height="12.45" fill="#6e6e1c"/><rect x="208" y="480.9" width="5.05" height="12.45" fill="#3c3c5c"/><rect x="213" y="480.9" width="5.05" height="12.45" fill="#6e6e1c"/><rect x="218" y="480.9" width="5.05" height="12.45" fill="#8c8c1e"/><rect x="223" y="480.9" width="5.05" height="12.45" fill="#6e6e1c"/><rect x="228" y="480.9" width="10.05" height="12.45" fill="#8c8c1e"/><rect x="238" y="480.9" width="10.05" height="12.45" fill="#84841e"/><rect x="248" y="480.9" width="15.05" height="12.45" fill="#6e6e1c"/><rect x="263" y="480.9" width="5.05" height="12.45" fill="#84841e"/><rect x="268" y="480.9" width="5.05" height="12.45" fill="#6e6e1c"/><rect x="273" y="480.9" width="5.05" height="12.45" fill="#84841e"/><rect x="278" y="480.9" width="5.05" height="12.45" fill="#3c3c5c"/><rect x="283" y="480.9" width="5.05" height="12.45" fill="#20209a"/><rect x="288" y="480.9" width="10.05" height="12.45" fill="#3c3c5c"/><rect x="298" y="480.9" width="5.05" height="12.45" fill="#20209a"/><rect x="303" y="480.9" width="5.05" height="12.45" fill="#3c3c5c"/><rect x="308" y="480.9" width="5.05" height="12.45" fill="#20209a"/><rect x="313" y="480.9" width="5.05" height="12.45" fill="#3c3c5c"/><rect x="318" y="480.9" width="5.05" height="12.45" fill="#6e6e1c"/><rect x="323" y="480.9" width="5.05" height="12.45" fill="#84841e"/><rect x="328" y="480.9" width="10.05" height="12.45" fill="#6e6e1c"/><rect x="338" y="480.9" width="5.05" height="12.45" fill="#3c3c5c"/><rect x="343" y="480.9" width="5.05" height="12.45" fill="#6e6e1c"/><rect x="348" y="480.9" width="5.05" height="12.45" fill="#3c3c5c"/><rect x="353" y="480.9" width="3.75" height="12.45" fill="#84841e"/></g>
<g><rect x="63.4" y="412.4" width="1.2" height="80.9" fill="#000" fill-opacity="0.32"/><rect x="66.6" y="412.4" width="1.5" height="80.9" fill="#000" fill-opacity="0.22"/><rect x="71.6" y="412.4" width="0.8" height="80.9" fill="#000" fill-opacity="0.32"/><rect x="72.9" y="412.4" width="1.0" height="80.9" fill="#000" fill-opacity="0.4"/><rect x="76.9" y="412.4" width="0.8" height="80.9" fill="#000" fill-opacity="0.32"/><rect x="78.7" y="412.4" width="1.2" height="80.9" fill="#000" fill-opacity="0.22"/><rect x="80.9" y="412.4" width="0.8" height="80.9" fill="#000" fill-opacity="0.32"/><rect x="86.9" y="412.4" width="0.8" height="80.9" fill="#000" fill-opacity="0.32"/><rect x="88.7" y="412.4" width="1.5" height="80.9" fill="#000" fill-opacity="0.4"/><rect x="92.2" y="412.4" width="1.2" height="80.9" fill="#000" fill-opacity="0.22"/><rect x="95.4" y="412.4" width="1.2" height="80.9" fill="#000" fill-opacity="0.12"/><rect x="97.6" y="412.4" width="1.0" height="80.9" fill="#000" fill-opacity="0.4"/><rect x="99.6" y="412.4" width="0.8" height="80.9" fill="#000" fill-opacity="0.32"/><rect x="101.9" y="412.4" width="1.5" height="80.9" fill="#000" fill-opacity="0.12"/><rect x="105.4" y="412.4" width="1.2" height="80.9" fill="#000" fill-opacity="0.32"/><rect x="107.1" y="412.4" width="0.8" height="80.9" fill="#000" fill-opacity="0.32"/><rect x="109.9" y="412.4" width="1.0" height="80.9" fill="#000" fill-opacity="0.12"/><rect x="111.9" y="412.4" width="1.5" height="80.9" fill="#000" fill-opacity="0.22"/><rect x="113.9" y="412.4" width="0.8" height="80.9" fill="#000" fill-opacity="0.32"/><rect x="116.2" y="412.4" width="1.2" height="80.9" fill="#000" fill-opacity="0.4"/><rect x="118.9" y="412.4" width="1.5" height="80.9" fill="#000" fill-opacity="0.32"/><rect x="124.7" y="412.4" width="1.5" height="80.9" fill="#000" fill-opacity="0.4"/><rect x="126.7" y="412.4" width="0.8" height="80.9" fill="#000" fill-opacity="0.4"/><rect x="129.0" y="412.4" width="1.5" height="80.9" fill="#000" fill-opacity="0.12"/><rect x="142.1" y="412.4" width="1.5" height="80.9" fill="#000" fill-opacity="0.22"/><rect x="148.4" y="412.4" width="1.5" height="80.9" fill="#000" fill-opacity="0.32"/><rect x="151.4" y="412.4" width="1.0" height="80.9" fill="#000" fill-opacity="0.22"/><rect x="153.9" y="412.4" width="1.5" height="80.9" fill="#000" fill-opacity="0.12"/><rect x="163.9" y="412.4" width="1.0" height="80.9" fill="#000" fill-opacity="0.12"/><rect x="169.2" y="412.4" width="1.2" height="80.9" fill="#000" fill-opacity="0.32"/><rect x="171.9" y="412.4" width="1.0" height="80.9" fill="#000" fill-opacity="0.4"/><rect x="173.4" y="412.4" width="1.5" height="80.9" fill="#000" fill-opacity="0.4"/><rect x="176.9" y="412.4" width="1.5" height="80.9" fill="#000" fill-opacity="0.22"/><rect x="180.4" y="412.4" width="0.8" height="80.9" fill="#000" fill-opacity="0.22"/><rect x="184.5" y="412.4" width="1.0" height="80.9" fill="#000" fill-opacity="0.22"/><rect x="186.5" y="412.4" width="0.8" height="80.9" fill="#000" fill-opacity="0.12"/><rect x="189.6" y="412.4" width="0.8" height="80.9" fill="#000" fill-opacity="0.12"/><rect x="193.7" y="412.4" width="1.0" height="80.9" fill="#000" fill-opacity="0.4"/><rect x="196.2" y="412.4" width="1.2" height="80.9" fill="#000" fill-opacity="0.32"/><rect x="200.9" y="412.4" width="1.5" height="80.9" fill="#000" fill-opacity="0.22"/><rect x="204.4" y="412.4" width="1.5" height="80.9" fill="#000" fill-opacity="0.12"/><rect x="208.9" y="412.4" width="1.2" height="80.9" fill="#000" fill-opacity="0.22"/><rect x="213.4" y="412.4" width="1.0" height="80.9" fill="#000" fill-opacity="0.4"/><rect x="214.9" y="412.4" width="1.2" height="80.9" fill="#000" fill-opacity="0.4"/><rect x="216.6" y="412.4" width="1.2" height="80.9" fill="#000" fill-opacity="0.32"/><rect x="219.3" y="412.4" width="1.0" height="80.9" fill="#000" fill-opacity="0.12"/><rect x="221.3" y="412.4" width="1.2" height="80.9" fill="#000" fill-opacity="0.4"/><rect x="229.5" y="412.4" width="1.2" height="80.9" fill="#000" fill-opacity="0.4"/><rect x="231.2" y="412.4" width="0.8" height="80.9" fill="#000" fill-opacity="0.12"/><rect x="236.7" y="412.4" width="1.5" height="80.9" fill="#000" fill-opacity="0.4"/><rect x="244.7" y="412.4" width="1.0" height="80.9" fill="#000" fill-opacity="0.12"/><rect x="246.7" y="412.4" width="1.5" height="80.9" fill="#000" fill-opacity="0.32"/><rect x="248.7" y="412.4" width="1.5" height="80.9" fill="#000" fill-opacity="0.4"/><rect x="251.7" y="412.4" width="0.8" height="80.9" fill="#000" fill-opacity="0.4"/><rect x="253.0" y="412.4" width="1.5" height="80.9" fill="#000" fill-opacity="0.4"/><rect x="262.2" y="412.4" width="1.5" height="80.9" fill="#000" fill-opacity="0.22"/><rect x="269.0" y="412.4" width="1.0" height="80.9" fill="#000" fill-opacity="0.32"/><rect x="275.5" y="412.4" width="1.0" height="80.9" fill="#000" fill-opacity="0.22"/><rect x="280.0" y="412.4" width="1.0" height="80.9" fill="#000" fill-opacity="0.12"/><rect x="282.0" y="412.4" width="1.2" height="80.9" fill="#000" fill-opacity="0.12"/><rect x="287.7" y="412.4" width="1.5" height="80.9" fill="#000" fill-opacity="0.4"/><rect x="291.2" y="412.4" width="1.0" height="80.9" fill="#000" fill-opacity="0.32"/><rect x="293.2" y="412.4" width="0.8" height="80.9" fill="#000" fill-opacity="0.22"/><rect x="296.8" y="412.4" width="1.0" height="80.9" fill="#000" fill-opacity="0.22"/><rect x="298.3" y="412.4" width="0.8" height="80.9" fill="#000" fill-opacity="0.12"/><rect x="301.1" y="412.4" width="0.8" height="80.9" fill="#000" fill-opacity="0.32"/><rect x="310.5" y="412.4" width="1.2" height="80.9" fill="#000" fill-opacity="0.32"/><rect x="312.7" y="412.4" width="1.2" height="80.9" fill="#000" fill-opacity="0.22"/><rect x="315.9" y="412.4" width="1.0" height="80.9" fill="#000" fill-opacity="0.4"/><rect x="318.4" y="412.4" width="1.0" height="80.9" fill="#000" fill-opacity="0.22"/><rect x="323.9" y="412.4" width="1.5" height="80.9" fill="#000" fill-opacity="0.12"/><rect x="325.9" y="412.4" width="1.0" height="80.9" fill="#000" fill-opacity="0.22"/><rect x="327.4" y="412.4" width="1.0" height="80.9" fill="#000" fill-opacity="0.4"/><rect x="332.2" y="412.4" width="1.0" height="80.9" fill="#000" fill-opacity="0.12"/><rect x="336.2" y="412.4" width="1.5" height="80.9" fill="#000" fill-opacity="0.22"/><rect x="341.7" y="412.4" width="1.5" height="80.9" fill="#000" fill-opacity="0.12"/><rect x="345.2" y="412.4" width="1.0" height="80.9" fill="#000" fill-opacity="0.12"/><rect x="347.7" y="412.4" width="0.8" height="80.9" fill="#000" fill-opacity="0.4"/><rect x="350.0" y="412.4" width="0.8" height="80.9" fill="#000" fill-opacity="0.12"/><rect x="352.8" y="412.4" width="1.5" height="80.9" fill="#000" fill-opacity="0.4"/><rect x="354.8" y="412.4" width="1.5" height="80.9" fill="#000" fill-opacity="0.12"/></g>
<rect x="58.9" y="478.9" width="297.80" height="2" fill="#f4f4f8"/>
<line x1="357.3" y1="421.1" x2="368.5" y2="421.1" stroke="#a0a0a0" stroke-width="0.8"/>
<line x1="357.3" y1="434.8" x2="368.5" y2="434.8" stroke="#a0a0a0" stroke-width="0.8"/>
<line x1="368.5" y1="421.1" x2="368.5" y2="434.8" stroke="#a0a0a0" stroke-width="0.8"/>
<line x1="368.5" y1="428.0" x2="383.9" y2="428.0" stroke="#a0a0a0" stroke-width="0.8"/>
<line x1="357.3" y1="448.2" x2="366.5" y2="448.2" stroke="#a0a0a0" stroke-width="0.8"/>
<line x1="357.3" y1="461.5" x2="366.5" y2="461.5" stroke="#a0a0a0" stroke-width="0.8"/>
<line x1="366.5" y1="448.2" x2="366.5" y2="461.5" stroke="#a0a0a0" stroke-width="0.8"/>
<line x1="366.5" y1="454.9" x2="373.9" y2="454.9" stroke="#a0a0a0" stroke-width="0.8"/>
<line x1="357.3" y1="474.7" x2="363.2" y2="474.7" stroke="#a0a0a0" stroke-width="0.8"/>
<line x1="357.3" y1="488.0" x2="363.2" y2="488.0" stroke="#a0a0a0" stroke-width="0.8"/>
<line x1="363.2" y1="474.7" x2="363.2" y2="488.0" stroke="#a0a0a0" stroke-width="0.8"/>
<line x1="363.2" y1="481.4" x2="373.9" y2="481.4" stroke="#a0a0a0" stroke-width="0.8"/>
<line x1="373.9" y1="454.9" x2="373.9" y2="481.4" stroke="#a0a0a0" stroke-width="0.8"/>
<line x1="373.9" y1="468.2" x2="383.9" y2="468.2" stroke="#a0a0a0" stroke-width="0.8"/>
<line x1="383.9" y1="428.0" x2="383.9" y2="468.2" stroke="#a0a0a0" stroke-width="0.8"/>
<line x1="357.3" y1="496.1" x2="383.9" y2="496.1" stroke="#a0a0a0" stroke-width="0.8"/>
<line x1="357.3" y1="496.1" x2="357.3" y2="497.8" stroke="#a0a0a0" stroke-width="0.8"/>
<line x1="370.5" y1="496.1" x2="370.5" y2="497.8" stroke="#a0a0a0" stroke-width="0.8"/>
<line x1="383.9" y1="496.1" x2="383.9" y2="497.8" stroke="#a0a0a0" stroke-width="0.8"/>
<text font-size="4.3" fill="#444" transform="translate(357.6,499.2) rotate(90)">0.61</text>
<text font-size="4.3" fill="#444" transform="translate(370.4,499.2) rotate(90)">0.13</text>
<text font-size="4.3" fill="#444" transform="translate(381.9,499.2) rotate(90)">-0.35</text>
<rect x="400" y="465.8" width="88.5" height="3.4" fill="url(#gBYk)"/>
<text x="396.6" y="480.4" font-size="9.75">-1.5</text>
<text x="442.2" y="480.4" font-size="9.75">0</text>
<text x="466.9" y="480.4" font-size="9.75">+1.5</text>
<text x="426.4" y="491.3" font-size="9.75">log2 ratio</text>
<text x="1.3" y="536.6" font-size="12" font-weight="bold" class="t">F</text>
<text x="37.2" y="538.4" font-size="11.02" class="t">gene expression - primary pre-B cells</text>
<text x="12.9" y="575.5" font-size="7.9">highly enriched</text>
<text x="74.2" y="575.5" font-size="7.9">enriched</text>
<text x="55.8" y="585.3" font-size="7.9">7.0</text>
<text x="73.6" y="585.3" font-size="7.9">3.8</text>
<polygon points="63.20,589.85 68.30,594.20 65.90,594.20 65.90,608.25 60.50,608.25 60.50,594.20 58.10,594.20" fill="url(#gDRed)" stroke="#401010" stroke-width="0.9" stroke-linejoin="miter"/>
<polygon points="77.00,609.55 82.30,603.80 79.25,603.80 79.25,589.25 74.75,589.25 74.75,603.80 71.70,603.80" fill="url(#gOr)" stroke="#4a2c10" stroke-width="0.9" stroke-linejoin="miter"/>
<text x="2.8" y="605.8" font-size="7.9">mult-lineage</text>
<text x="2.8" y="615.4" font-size="7.9">progenitors</text>
<text x="2.8" y="624.6" font-size="7.9">(MLP)</text>
<line x1="51" y1="612.5" x2="86.80" y2="612.50" stroke="#808080" stroke-width="1.0"/>
<polygon points="90.40,612.50 86.80,614.20 86.80,610.80" fill="#111"/>
<text x="100.1" y="605.3" font-size="7.9">lymphoid</text>
<text x="100.1" y="615.5" font-size="7.9">progenitors</text>
<text x="100.1" y="626" font-size="7.9">(CLP)</text>
<text x="106.5" y="558.1" font-size="7.9">highly enriched</text>
<text x="165.3" y="558.1" font-size="7.9">weakly enriched</text>
<text x="149.2" y="567.2" font-size="7.9">5.6</text>
<text x="165.6" y="567.2" font-size="7.9">1.7</text>
<polygon points="156.40,571.85 161.45,576.80 159.10,576.80 159.10,590.65 153.70,590.65 153.70,576.80 151.35,576.80" fill="url(#gRed2)" stroke="#501010" stroke-width="0.9" stroke-linejoin="miter"/>
<polygon points="169.30,591.05 174.55,585.90 171.85,585.90 171.85,571.85 166.75,571.85 166.75,585.90 164.05,585.90" fill="url(#gTeal3)" stroke="#1e4a40" stroke-width="0.9" stroke-linejoin="miter"/>
<line x1="144.6" y1="613.1" x2="187.30" y2="591.05" stroke="#333" stroke-width="0.8"/>
<polygon points="190.50,589.40 188.08,592.56 186.52,589.54" fill="#111"/>
<line x1="144.6" y1="613.1" x2="187.28" y2="634.58" stroke="#333" stroke-width="0.8"/>
<polygon points="190.50,636.20 186.52,636.10 188.05,633.06" fill="#111"/>
<text x="196.4" y="586.7" font-size="7.9">B cell progenitors</text>
<text x="196.4" y="596.8" font-size="7.9">(pro-B cells)</text>
<text x="196.2" y="635.3" font-size="7.9">T cell progenitors</text>
<text x="196.2" y="644.1" font-size="7.9">(DP thymocytes)</text>
<polygon points="158.25,636.35 163.45,641.50 161.00,641.50 161.00,655.85 155.50,655.85 155.50,641.50 153.05,641.50" fill="url(#gCyan)" stroke="#1e4048" stroke-width="0.9" stroke-linejoin="miter"/>
<polygon points="171.50,657.25 176.60,651.60 174.10,651.60 174.10,637.65 168.90,637.65 168.90,651.60 166.40,651.60" fill="url(#gYel4)" stroke="#424218" stroke-width="0.9" stroke-linejoin="miter"/>
<text x="150.8" y="666.4" font-size="7.9">1.2</text>
<text x="167.6" y="666.4" font-size="7.9">2.8</text>
<text x="137" y="675.5" font-size="7.9">neutral</text>
<text x="168.3" y="675.5" font-size="7.9">enriched</text>
<text x="286.1" y="538.3" font-size="11.02" class="t">gene expression - primary pre-B cells</text>
<text x="318" y="567" font-size="7.9">highly enriched</text>
<text x="378.7" y="567" font-size="7.9">highly enriched</text>
<text x="356.7" y="576.3" font-size="7.9">17.4</text>
<text x="378.7" y="576.3" font-size="7.9">7.1</text>
<polygon points="369.20,579.35 374.05,583.70 371.70,583.70 371.70,599.15 366.70,599.15 366.70,583.70 364.35,583.70" fill="url(#gDRed)" stroke="#401010" stroke-width="0.9" stroke-linejoin="miter"/>
<polygon points="382.20,600.45 387.95,595.20 385.05,595.20 385.05,580.45 379.35,580.45 379.35,595.20 376.45,595.20" fill="url(#gDRed)" stroke="#401010" stroke-width="0.9" stroke-linejoin="miter"/>
<text x="290.9" y="611.2" font-size="8.1">cycling pre-B cells</text>
<line x1="360" y1="608.9" x2="395.20" y2="608.90" stroke="#808080" stroke-width="1.0"/>
<polygon points="398.80,608.90 395.20,610.60 395.20,607.20" fill="#111"/>
<text x="403.3" y="611.2" font-size="8.1">resting pre-B cells</text>
<text x="395.4" y="643.7" font-size="6.95">Ikaros targets are</text>
<text x="387.1" y="652.0" font-size="6.95">depleted</text>
<text x="426.59999999999997" y="652.0" font-size="6.95">enriched</text>
<rect x="387.7" y="656.9" width="67" height="5.5" fill="url(#gOdds)"/>
<text x="386.5" y="672.2" font-size="6.95">0.4</text>
<text x="398.0" y="672.2" font-size="6.95">0.6</text>
<text x="412.5" y="672.2" font-size="6.95">1</text>
<text x="420.2" y="672.2" font-size="6.95">2</text>
<text x="427.5" y="672.2" font-size="6.95">3</text>
<text x="435.59999999999997" y="672.2" font-size="6.95">4</text>
<text x="443.59999999999997" y="672.2" font-size="6.95">5</text>
<text x="451.7" y="672.2" font-size="6.95">6</text>
<text x="405.29999999999995" y="680.3" font-size="7.05">odds ratio</text>
</svg>
</body></html>
